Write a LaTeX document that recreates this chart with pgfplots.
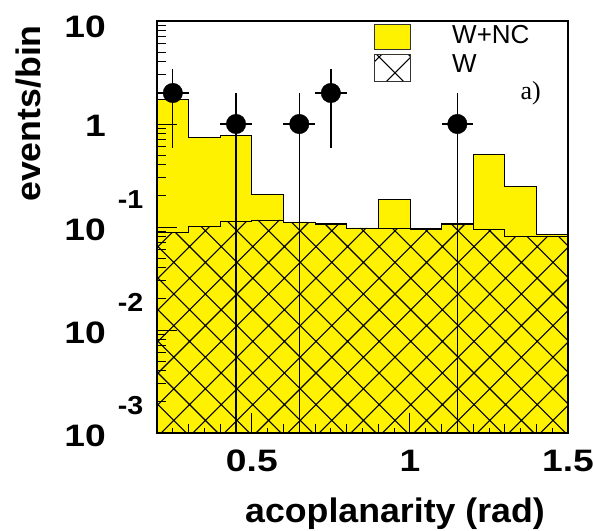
\documentclass[border=0pt]{standalone}
\usepackage{graphicx}
\usepackage{pgfplots}
\pgfplotsset{compat=1.18}
\usepackage{pgfplotstable}
\usetikzlibrary{patterns}
\usepackage{fontspec}
\setmainfont{Liberation Sans}
\newfontfamily\seriffont{Liberation Serif}
\newcommand\tickfont{\fontsize{31bp}{36bp}\selectfont\bfseries}
\newcommand\expfont{\fontsize{26bp}{30bp}\selectfont\bfseries}
\newcommand\labfont{\fontsize{34bp}{40bp}\selectfont\bfseries}
\newcommand\legfont{\fontsize{26bp}{30bp}\selectfont}
\newcommand\sx[1]{\scalebox{1.2}[1]{#1}}
\newcommand\tlab[1]{\raisebox{-13bp}{\sx{10}\rlap{\hspace{12bp}\raisebox{32bp}{\scalebox{1.1}[1]{\expfont #1}}}}}

\pgfdeclarepatternformonly{bigx}{\pgfqpoint{-1bp}{-1bp}}{\pgfqpoint{32.6bp}{32.6bp}}{\pgfqpoint{31.6bp}{31.6bp}}{%
  \pgfsetlinewidth{1.1bp}%
  \pgfpathmoveto{\pgfqpoint{-0.5bp}{-0.5bp}}\pgfpathlineto{\pgfqpoint{32.1bp}{32.1bp}}%
  \pgfpathmoveto{\pgfqpoint{-0.5bp}{32.1bp}}\pgfpathlineto{\pgfqpoint{32.1bp}{-0.5bp}}%
  \pgfusepath{stroke}}

\pgfplotstableread{
x y
0.2 1e-5
0.2 1.74
0.3 0.743
0.4 0.776
0.5 0.207
0.6 0.112
0.7 0.108
0.8 0.098
0.9 0.186
1.0 0.097
1.1 0.108
1.2 0.508
1.3 0.248
1.4 0.084
1.5 0.084
1.5 1e-5
}\wnc

\pgfplotstableread{
x y
0.2 1e-5
0.2 0.089
0.3 0.101
0.4 0.114
0.5 0.117
0.6 0.110
0.7 0.107
0.8 0.098
0.9 0.096
1.0 0.095
1.1 0.107
1.2 0.095
1.3 0.081
1.4 0.081
1.5 0.081
1.5 1e-5
}\wonly

\pgfplotstableread{
x y ex ep em
0.25 2 0.05 1.414 1.414
0.45 1 0.05 1 0.99999
0.65 1 0.05 1 0.99999
0.75 2 0.05 1.414 1.414
1.15 1 0.05 1 0.99999
}\data

\begin{document}
\begin{tikzpicture}
\useasboundingbox (-157bp,-98bp) rectangle (436bp,433bp);
\begin{axis}[
  scale only axis, width=411bp, height=412bp,
  xmin=0.2, xmax=1.5,
  ymode=log, ymin=1e-3, ymax=10, log origin=infty,
  axis on top,
  axis line style={line width=1.3bp},
  tick style={line width=1bp, black},
  tick align=inside,
  xtick pos=bottom, ytick pos=left,
  major tick length=20bp, minor tick length=9bp,
  xtick={0.5,1,1.5}, xticklabels={\sx{0.5},\sx{1},\sx{1.5}},
  minor xtick={0.2,0.3,0.4,0.6,0.7,0.8,0.9,1.1,1.2,1.3,1.4},
  extra x ticks={0.25,0.35,0.45,0.55,0.65,0.75,0.85,0.95,1.05,1.15,1.25,1.35,1.45},
  extra x tick labels={},
  extra x tick style={major tick length=5bp, tick style={line width=0.8bp}},
  ytick={0.001,0.01,0.1,1,10},
  yticklabels={\tlab{-3},\tlab{-2},\tlab{-1},\raisebox{-12bp}{\sx{1}},\raisebox{-16bp}{\sx{10}}},
  xticklabel style={font=\tickfont, inner sep=0pt, anchor=north, yshift=-17bp},
  yticklabel style={font=\tickfont, inner sep=0pt, anchor=base east, xshift=-51bp},
  xlabel={\scalebox{1.05}[1]{acoplanarity (rad)}},
  xlabel style={font=\labfont, at={(axis description cs:0.944,-0.218)}, anchor=base east, inner sep=0pt},
  ylabel={\scalebox{1.05}[1]{events/bin}},
  ylabel style={font=\labfont, at={(axis description cs:-0.284,0.7755)}, anchor=base, inner sep=0pt},
]
\addplot[const plot, fill=yellow, draw=black, line width=0.8bp] table[x=x,y=y] {\wnc};
\addplot[const plot, pattern=bigx, draw=black, line width=0.8bp] table[x=x,y=y] {\wonly};
\addplot[only marks, mark=*, mark size=9.75bp, black,
  error bars/.cd, x dir=both, x explicit, y dir=both, y explicit,
  error mark=none, error bar style={line width=1.3bp, black}]
  table[x=x, y=y, x error=ex, y error plus=ep, y error minus=em] {\data};
% legend
\draw[fill=yellow, draw=black!80, line width=0.7bp] (axis description cs:0.528,0.9927) rectangle (axis description cs:0.6156,0.932);
\draw[fill=white, pattern=bigx, draw=black!80, line width=0.7bp] (axis description cs:0.528,0.9199) rectangle (axis description cs:0.6156,0.8544);
\node[font=\legfont, anchor=base west, inner sep=0pt] at (axis description cs:0.7178,0.9466) {W+NC};
\node[font=\legfont, anchor=base west, inner sep=0pt] at (axis description cs:0.7178,0.8762) {W};
\node[font=\seriffont\fontsize{26bp}{30bp}\selectfont, anchor=base west, inner sep=0pt] at (axis description cs:0.884,0.8083) {a)};
\end{axis}
\end{tikzpicture}
\end{document}
